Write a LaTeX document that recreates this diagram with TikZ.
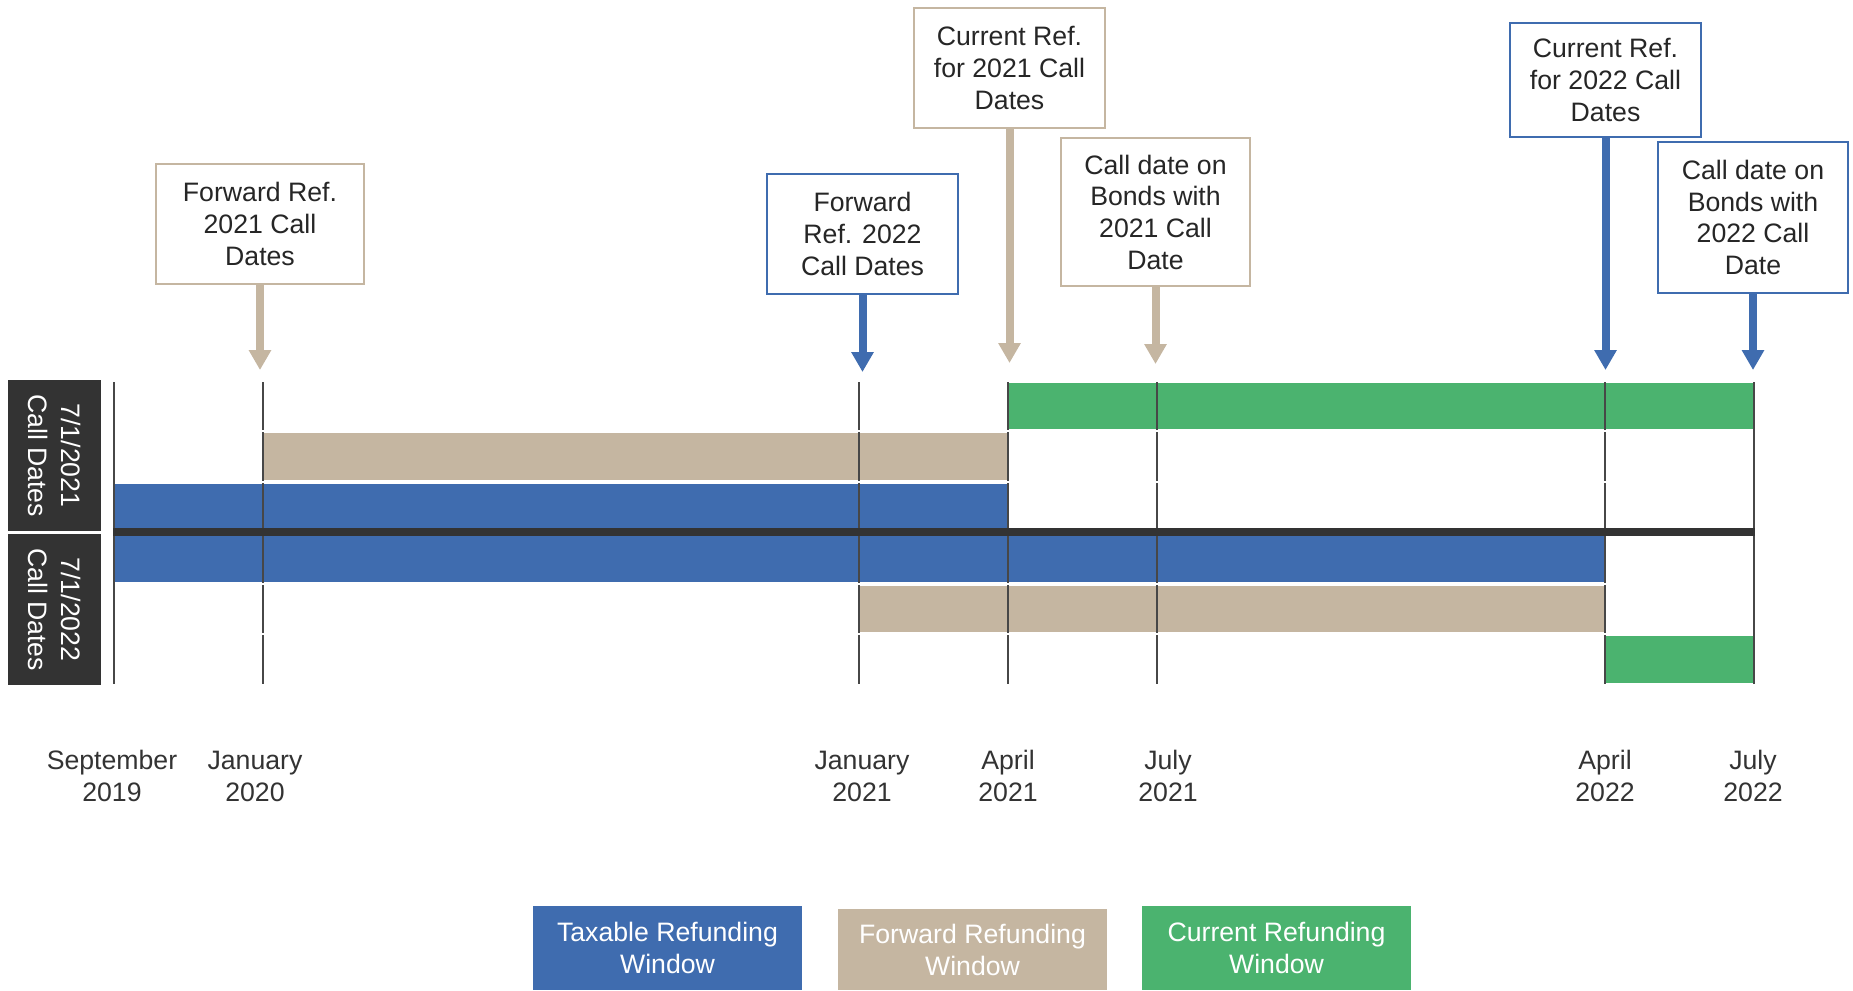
\documentclass[tikz,border=0pt]{standalone}
\usepackage{fontspec}
\setmainfont{Liberation Sans}
\usetikzlibrary{arrows.meta}

\definecolor{taxblue}{RGB}{63,108,175}
\definecolor{fwdtan}{RGB}{197,182,161}
\definecolor{curgreen}{RGB}{75,179,111}
\definecolor{darkbar}{RGB}{51,51,51}
\definecolor{txt}{RGB}{38,38,38}

\tikzset{
	callout/.style={draw=#1, line width=1.9pt, fill=white, align=center, inner sep=0pt, text=txt, font=\fontsize{20}{23.75}\selectfont},
	callarrow/.style={draw=#1, line width=6pt, -{Triangle[length=15pt,width=16pt,fill=#1]}},
	window/.style={fill=#1, draw=white, line width=1.2pt},
	gridline/.style={draw=darkbar!90, line width=1.1pt},
	datelabel/.style={align=center, text=darkbar, font=\fontsize{20}{24}\selectfont},
	rowlabel/.style={fill=darkbar, text=white, rotate=-90, align=center, inner sep=0pt, minimum width=113.25pt, minimum height=69.75pt, font=\fontsize{20}{24.75}\selectfont},
	legendbox/.style={fill=#1, text=white, align=center, inner sep=0pt, minimum width=201.75pt, font=\fontsize{20}{24}\selectfont}
}

\begin{document}
\begin{tikzpicture}[x=0.75pt, y=-0.75pt]
\useasboundingbox (0,0) rectangle (1853,990);

\def \top {382}
\def \bottom {684}

% refunding windows: 2021 call dates above the line, 2022 below
\foreach \xa/\xb/\ya/\yb/\c in {1008/1754/382/430/curgreen, 263/1008/432/481/fwdtan, 114/1008/483/529/taxblue,
	114/1605/535/583/taxblue, 859/1605/585/633/fwdtan, 1605/1754/635/684/curgreen}
{
	\draw[window=\c] (\xa,\ya) rectangle (\xb,\yb);
}

\foreach \x in {114,263,859,1008,1157,1605,1754}
	\draw[gridline] (\x,\top) -- (\x,\bottom);
\foreach \y in {431,481.5,583.5,634}
	\draw[white, line width=1.5pt] (115,\y) -- (1753,\y);
\draw[darkbar, line width=6pt] (113,532) -- (1755,532);

\node[rowlabel] (row21) at (54.5,455.5) {7/1/2021\\Call Dates};
\node[rowlabel] (row22) at (54.5,609.5) {7/1/2022\\Call Dates};

\foreach \x/\m/\yr in {112/September/2019, 255/January/2020, 862/January/2021, 1008/April/2021,
	1168/July/2021, 1605/April/2022, 1753/July/2022}
	\node[datelabel] (date\x) at (\x,776) {\m\\\yr};

\node[callout=fwdtan, minimum width=156pt, minimum height=90pt] (fwd21) at (260,224) {Forward Ref.\\2021 Call\\Dates};
\node[callout=taxblue, minimum width=143.25pt, minimum height=90pt] (fwd22) at (862.5,234) {Forward\\Ref. 2022\\Call Dates};
\node[callout=fwdtan, minimum width=143.25pt, minimum height=90pt] (cur21) at (1009.5,68) {Current Ref.\\for 2021 Call\\Dates};
\node[callout=fwdtan, minimum width=141.75pt, minimum height=111pt] (call21) at (1155.5,212) {Call date on\\Bonds with\\2021 Call\\Date};
\node[callout=taxblue, minimum width=143.25pt, minimum height=85.5pt] (cur22) at (1605.5,80) {Current Ref.\\for 2022 Call\\Dates};
\node[callout=taxblue, minimum width=142.5pt, minimum height=113pt] (call22) at (1753,217.5) {Call date on\\Bonds with\\2022 Call\\Date};

\coordinate (tipfwd21) at (260,370);
\coordinate (tipfwd22) at (862.5,372);
\coordinate (tipcur21) at (1009.5,363);
\coordinate (tipcall21) at (1155.5,364);
\coordinate (tipcur22) at (1605.5,370);
\coordinate (tipcall22) at (1753,370);

\draw[callarrow=fwdtan] (fwd21.south) -- (tipfwd21);
\draw[callarrow=taxblue] (fwd22.south) -- (tipfwd22);
\draw[callarrow=fwdtan] (cur21.south) -- (tipcur21);
\draw[callarrow=fwdtan] (call21.south) -- (tipcall21);
\draw[callarrow=taxblue] (cur22.south) -- (tipcur22);
\draw[callarrow=taxblue] (call22.south) -- (tipcall22);

\node[legendbox=taxblue, minimum height=63pt] (legtax) at (667.5,948) {Taxable Refunding\\Window};
\node[legendbox=fwdtan, minimum height=60.75pt] (legfwd) at (972.5,949.5) {Forward Refunding\\Window};
\node[legendbox=curgreen, minimum height=63pt] (legcur) at (1276.5,948) {Current Refunding\\Window};
\end{tikzpicture}
\end{document}
